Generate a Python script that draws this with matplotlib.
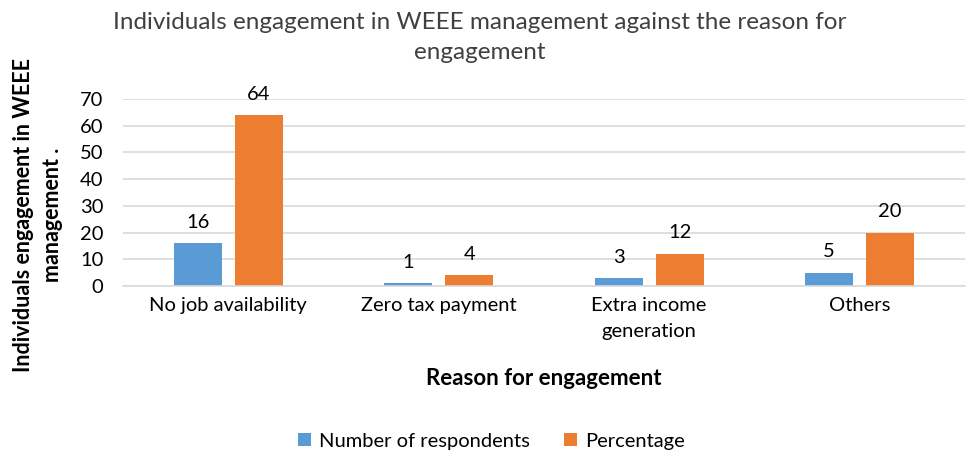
import matplotlib.pyplot as plt
import numpy as np

plt.rcParams['font.family'] = ['Lato', 'DejaVu Sans']

# Data
categories = ['No job availability', 'Zero tax payment', 'Extra income\ngeneration', 'Others']
respondents = [16, 1, 3, 5]
percentage = [64, 4, 12, 20]

blue = '#5B9BD5'
orange = '#ED7D31'

fig = plt.figure(figsize=(9.71, 4.54), dpi=100)
ax = fig.add_axes([0.1267, 0.370, 0.867, 0.412])

x = np.arange(len(categories))
w = 0.228
off = 0.145
b1 = ax.bar(x - off, respondents, w, color=blue, label='Number of respondents')
b2 = ax.bar(x + off, percentage, w, color=orange, label='Percentage')
ax.bar_label(b1, padding=9, fontsize=14.5)
ax.bar_label(b2, padding=9, fontsize=14.5)

ax.set_xlim(-0.5, 3.5)
ax.set_ylim(0, 70)
ax.set_yticks(range(0, 71, 10))
ax.set_xticks(x)
ax.set_xticklabels(categories, fontsize=14.5, linespacing=1.6)
ax.tick_params(axis='y', labelsize=14.5, length=0, pad=14)
ax.tick_params(axis='x', length=0, pad=8)
ax.grid(axis='y', color='#d9d9d9', linewidth=1.2)
ax.set_axisbelow(True)
for s in ['top', 'right', 'left']:
    ax.spines[s].set_visible(False)
ax.spines['bottom'].set_color('#d9d9d9')
ax.spines['bottom'].set_linewidth(1.2)

fig.text(0.494, 0.917, 'Individuals engagement in WEEE management against the reason for\nengagement',
         ha='center', va='center', fontsize=17.5, color='#404040', linespacing=1.5)
fig.text(0.039, 0.526, 'Individuals engagement in WEEE\nmanagement .', rotation=90,
         ha='center', va='center', fontsize=15.5, fontweight='bold', linespacing=1.5)
fig.text(0.56, 0.167, 'Reason for engagement', ha='center', va='center',
         fontsize=16, fontweight='bold')
fig.legend(loc='center', bbox_to_anchor=(0.506, 0.028), ncol=2, frameon=False,
           fontsize=14.5, handlelength=0.65, handleheight=0.65, columnspacing=1.7, handletextpad=0.4)

fig.savefig('out.png', dpi=100)
